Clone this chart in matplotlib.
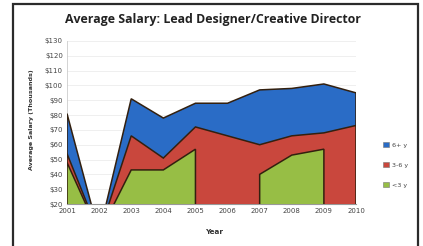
import numpy as np
import matplotlib
matplotlib.use("Agg")
import matplotlib.pyplot as plt
from matplotlib.patches import Patch, Rectangle

years = [2001, 2002, 2003, 2004, 2005, 2006, 2007, 2008, 2009, 2010]
series_names = ["6+ y", "3-6 y", "<3 y"]
senior = [81, 0, 91, 78, 88, 88, 97, 98, 101, 95]
mid = [54, 0, 66, 51, 72, 66, 60, 66, 68, 73]
junior = [48, 0, 43, 43, 57, np.nan, 40, 53, 57, np.nan]
yticks = [20, 30, 40, 50, 60, 70, 80, 90, 100, 110, 120, 130]
colors = ["#2a6cc6", "#c9473d", "#97be45"]

W, H = 423, 246
fig = plt.figure(figsize=(W / 100, H / 100), dpi=100)
fig.patch.set_facecolor("white")
fig.add_artist(Rectangle((13 / W, -0.05), (418 - 13) / W, (H - 4) / H + 0.05,
                         transform=fig.transFigure, fill=False,
                         edgecolor="#2b2b2b", linewidth=1.6))

ax = fig.add_axes([67 / W, (H - 204) / H, (356 - 67) / W, (204 - 41) / H])


def draw_area(x, y, color):
    x = np.asarray(x, float)
    y = np.asarray(y, float)
    ok = ~np.isnan(y)
    idx = np.where(ok)[0]
    if len(idx) == 0:
        return
    groups = np.split(idx, np.where(np.diff(idx) != 1)[0] + 1)
    for g in groups:
        xs = np.concatenate([[x[g[0]]], x[g], [x[g[-1]]]])
        ys = np.concatenate([[0], y[g], [0]])
        ax.fill(xs, ys, facecolor=color, edgecolor="#33200f",
                linewidth=1.1, zorder=3)


for vals, c in zip([senior, mid, junior], colors):
    draw_area(years, vals, c)

ax.set_xlim(years[0], years[-1])
ax.set_ylim(yticks[0], yticks[-1])
ax.set_yticks(yticks)
ax.set_yticklabels([f"${v}" for v in yticks])
ax.set_xticks(years)
ax.set_xticklabels([str(y) for y in years])
ax.tick_params(axis="both", labelsize=5.0, colors="#444444", length=0, pad=3)
ax.grid(axis="y", color="#ececec", linewidth=0.6, zorder=0)
for s in ["top", "right"]:
    ax.spines[s].set_visible(False)
ax.spines["bottom"].set_color("#999999")
ax.spines["bottom"].set_linewidth(0.8)
ax.spines["left"].set_color("#cccccc")
ax.spines["left"].set_linewidth(0.6)
ax.set_axisbelow(True)

fig.text(213 / W, (H - 20) / H, "Average Salary: Lead Designer/Creative Director",
         ha="center", va="center", fontsize=8.9, fontweight="bold",
         family="Open Sans", color="#222222")
fig.text(31 / W, (H - 120) / H, "Average Salary (Thousands)", rotation=90,
         ha="center", va="center", fontsize=4.6, fontweight="bold", color="#333333")
fig.text(214 / W, (H - 232) / H, "Year", ha="center", va="center",
         fontsize=5.2, fontweight="bold", color="#333333")

handles = [Patch(facecolor=c, edgecolor="#777777", linewidth=0.4) for c in colors]
fig.legend(handles, series_names, loc="center left",
           bbox_to_anchor=(377 / W, (H - 165) / H), frameon=False,
           fontsize=4.6, labelspacing=2.2, handlelength=0.9, handleheight=0.9,
           handletextpad=0.5, labelcolor="#444444")

fig.savefig("out.png", dpi=100, facecolor="white")
